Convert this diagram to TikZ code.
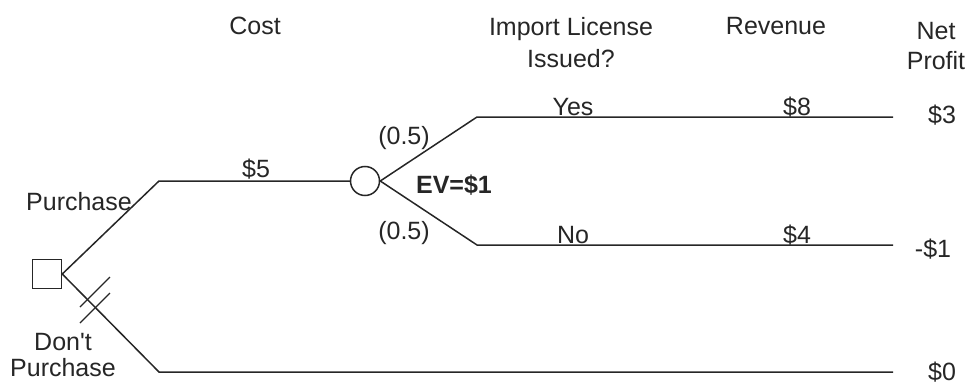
\documentclass[tikz,border=0pt]{standalone}
\usepackage{fontspec}
\setmainfont{Liberation Sans}
\begin{document}
\begin{tikzpicture}[x=1pt,y=-1pt,
  lbl/.style={font=\fontsize{25}{30}\selectfont, inner sep=0pt, anchor=base, text=black!85},
  lbl2/.style={font=\fontsize{25}{30}\selectfont, inner sep=0pt, anchor=north, align=center, text=black!85},
  branch/.style={line width=1.5pt, draw=black!85},
  decnode/.style={draw=black!85, line width=1.5pt, minimum size=29pt, inner sep=0pt, rectangle},
  chancenode/.style={draw=black!85, line width=1.5pt, minimum size=29pt, inner sep=0pt, circle}]
\useasboundingbox (0,0) rectangle (973,385);

% nodes
\node[decnode] (dec) at (47,274) {};
\node[chancenode] (chance) at (365,181) {};

% coordinates
\coordinate (p1) at (159,181);
\coordinate (y1) at (477,117);
\coordinate (y2) at (893,117);
\coordinate (n1) at (477,245);
\coordinate (n2) at (893,245);
\coordinate (d1) at (159,372);
\coordinate (d2) at (893,372);
\coordinate (h1a) at (80,307);
\coordinate (h1b) at (110,277);
\coordinate (h2a) at (80,323);
\coordinate (h2b) at (110,293);

% branches
\draw[branch] (dec.east) -- (p1) -- (chance.west);
\draw[branch] (chance.east) -- (y1) -- (y2);
\draw[branch] (chance.east) -- (n1) -- (n2);
\draw[branch] (dec.east) -- (d1) -- (d2);
\draw[branch, line width=1.2pt] (h1a) -- (h1b);
\draw[branch, line width=1.2pt] (h2a) -- (h2b);

% headers
\node[lbl] (hcost) at (255,35) {Cost};
\node[lbl2] (himp) at (571,17) {Import License\\[2pt]Issued?};
\node[lbl] (hrev) at (776,35) {Revenue};
\node[lbl2] (hnet) at (936,22) {Net\\[0pt]Profit};

% branch labels
\node[lbl] (lpur) at (79,210) {Purchase};
\node[lbl2] (ldont) at (63,333) {Don\textquotesingle t\\[-4pt]Purchase};
\node[lbl] (lcost) at (256,177) {\$5};
\node[lbl] (lp1) at (404,144) {(0.5)};
\node[lbl] (lp2) at (404,239) {(0.5)};
\node[lbl, font=\fontsize{25}{30}\selectfont\bfseries] (lev) at (454,193) {EV=\$1};
\node[lbl] (lyes) at (573,115) {Yes};
\node[lbl] (lno) at (573,243) {No};
\node[lbl] (lr8) at (797,115) {\$8};
\node[lbl] (lr4) at (797,243) {\$4};
\node[lbl] (lnp3) at (942,123) {\$3};
\node[lbl] (lnpm1) at (933,257) {-\$1};
\node[lbl] (lnp0) at (942,380) {\$0};
\end{tikzpicture}
\end{document}
